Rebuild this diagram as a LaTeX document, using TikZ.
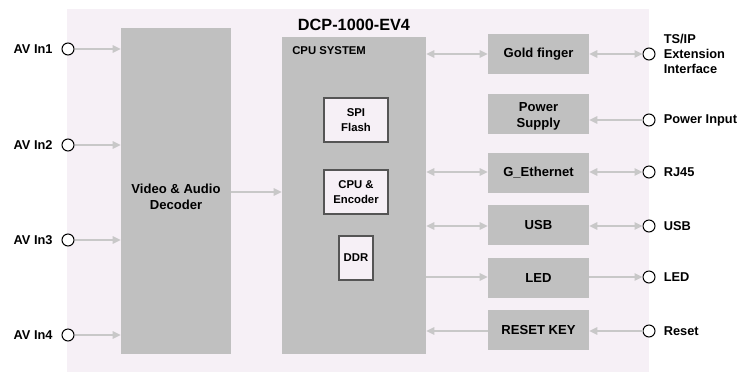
\documentclass[tikz,border=0pt]{standalone}
\usepackage{fontspec}
\setmainfont{Liberation Sans}
\usepackage{xcolor}
\usetikzlibrary{positioning,arrows.meta,calc}

\definecolor{bgpink}{HTML}{F6F0F6}
\definecolor{boxgray}{HTML}{C0C0C0}
\definecolor{wiregray}{HTML}{C8C8C8}
\definecolor{rimgray}{HTML}{555555}

\begin{document}
\begin{tikzpicture}[
    x=0.75pt, y=-0.75pt,
    block/.style={rectangle, fill=boxgray, inner sep=0pt, align=center, font=\bfseries\fontsize{9.8}{12}\selectfont},
    chip/.style={rectangle, fill=bgpink, draw=rimgray, line width=0.8pt, inner sep=0pt, align=center, font=\bfseries\fontsize{8.5}{11}\selectfont},
    pin/.style={circle, draw=black, fill=white, line width=0.75pt, minimum size=9pt, inner sep=0pt},
    pinlabel/.style={inner sep=0pt, align=left, font=\bfseries\fontsize{9.6}{11.5}\selectfont},
    arrow/.style={-{Triangle[length=6pt,width=5.5pt]}, draw=wiregray, line width=1.3pt},
    both/.style={{Triangle[length=6pt,width=5.5pt]}-{Triangle[length=6pt,width=5.5pt]}, draw=wiregray, line width=1.3pt}
]
\useasboundingbox (0,0) rectangle (741,372);

% Board
\fill[bgpink] (67,9) rectangle (649,372);
\node[font=\bfseries\fontsize{12.2}{14}\selectfont] (title) at (354,25) {DCP-1000-EV4};

% Main blocks
\node[block, minimum width=82.5pt, minimum height=244.5pt] (dec) at (176,191) {};
\node[block, fill=none] (declbl) at (176,197) {Video \& Audio\\Decoder};
\node[block, minimum width=108pt, minimum height=237.75pt] (cpu) at (354,195.5) {};
\node[anchor=west, inner sep=0pt, font=\bfseries\fontsize{8.5}{10}\selectfont] (cpulbl) at (292,51) {CPU SYSTEM};
\node[chip, minimum width=48pt, minimum height=33pt] (spi) at (356,120) {SPI\\Flash};
\node[chip, minimum width=48pt, minimum height=33pt] (enc) at (356,192) {CPU \&\\Encoder};
\node[chip, minimum width=25.5pt, minimum height=33pt] (ddr) at (356,258) {DDR};

% Interface blocks
\node[block, minimum width=75.75pt, minimum height=30pt] (gold) at (538.5,54) {Gold finger};
\node[block, minimum width=75.75pt, minimum height=30pt] (power) at (538.5,113.5) {};
\node[block, fill=none] (powerlbl) at (538.5,116) {Power\\Supply};
\node[block, minimum width=75.75pt, minimum height=30pt] (eth) at (538.5,173) {G\_Ethernet};
\node[block, minimum width=75.75pt, minimum height=30pt] (usb) at (538.5,225) {USB};
\node[block, minimum width=75.75pt, minimum height=30pt] (led) at (538.5,278) {LED};
\node[block, minimum width=75.75pt, minimum height=30pt] (reset) at (538.5,330) {RESET KEY};

% Input pins
\foreach \n/\y in {1/49, 2/145, 3/240, 4/335} {
    \node[pin] (in\n) at (68,\y) {};
    \node[pinlabel, left=6.5pt of in\n] (in\n lbl) {AV In\n};
    \draw[arrow] (in\n) -- (in\n -| dec.west);
}

% Output pins
\node[pin] (tsip) at (649,54) {};
\node[pin] (pwrin) at (649,120) {};
\node[pin] (rj45) at (649,172) {};
\node[pin] (usbp) at (649,226) {};
\node[pin] (ledp) at (649,277) {};
\node[pin] (rstp) at (649,331) {};
\node[pinlabel, right=6pt of tsip] (tsiplbl) {TS/IP\\Extension\\Interface};
\node[pinlabel, right=6pt of pwrin] (pwrinlbl) {Power Input};
\node[pinlabel, right=6pt of rj45] (rj45lbl) {RJ45};
\node[pinlabel, right=6pt of usbp] (usbplbl) {USB};
\node[pinlabel, right=6pt of ledp] (ledplbl) {LED};
\node[pinlabel, right=6pt of rstp] (rstplbl) {Reset};

% Internal links
\draw[arrow] (dec.east |- enc) -- (cpu.west |- enc);
\draw[both] (cpu.east |- tsip) -- (gold.west |- tsip);
\draw[both] (cpu.east |- rj45) -- (eth.west |- rj45);
\draw[both] (cpu.east |- usbp) -- (usb.west |- usbp);
\draw[arrow] (cpu.east |- ledp) -- (led.west |- ledp);
\draw[arrow] (reset.west |- rstp) -- (cpu.east |- rstp);

% External links
\draw[both] (gold.east |- tsip) -- (tsip);
\draw[arrow] (pwrin) -- (power.east |- pwrin);
\draw[both] (eth.east |- rj45) -- (rj45);
\draw[both] (usb.east |- usbp) -- (usbp);
\draw[arrow] (led.east |- ledp) -- (ledp);
\draw[arrow] (rstp) -- (reset.east |- rstp);

\end{tikzpicture}
\end{document}
